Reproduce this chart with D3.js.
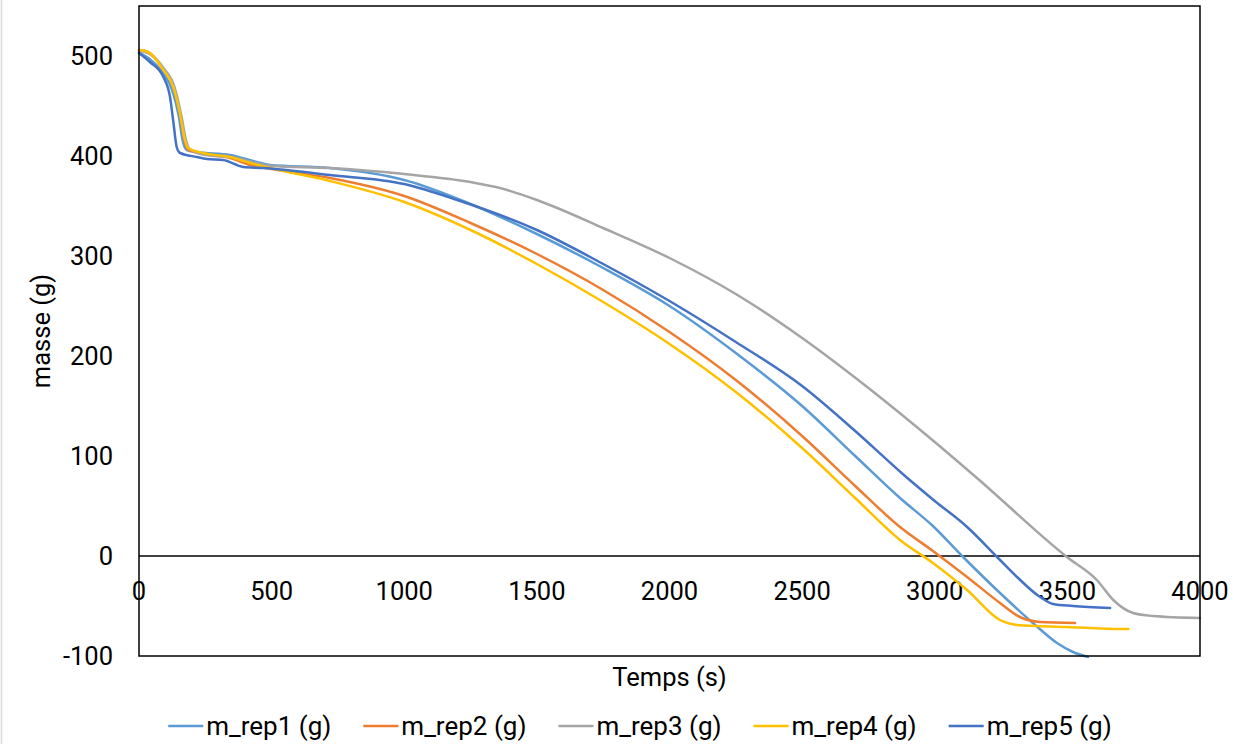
<!DOCTYPE html>
<html lang="fr">
<head>
  <meta charset="utf-8">
  <title>masse vs temps</title>
  <script src="https://d3js.org/d3.v7.min.js"></script>
  <style>
    body { margin: 0; background: #fff; }
    svg text { font-family: Roboto, "Liberation Sans", sans-serif; fill: #000; }
    .line { fill: none; stroke-width: 2.5px; stroke-linejoin: round; stroke-linecap: round; }
  </style>
</head>
<body>
<svg width="1234" height="744"></svg>
<script>
// series: [temps (s), masse (g)]
var rep1 = [[0,503],[40,497],[90,483],[125,466],[150,440],[165,415],[180,406],[218,404],[343,401],[444,394],[494,391],[720,388],[1000,376],[1250,352],[1500,322],[1750,288],[2000,250],[2250,203],[2500,150],[2700,100],[2869,58],[2993,30],[3107,-1],[3246,-37],[3370,-67],[3461,-87],[3521,-96],[3578,-101]];
var rep2 = [[0,506],[34,504],[92,487],[130,470],[155,443],[172,415],[186,406],[242,402],[343,398],[420,391],[500,387],[720,378],[1000,360],[1250,333],[1500,302],[1750,266],[2000,224],[2250,176],[2500,120],[2700,70],[2869,29],[2993,5],[3122,-21],[3246,-47],[3321,-61],[3397,-66],[3529,-67]];
var rep3 = [[0,505],[34,503],[92,488],[135,468],[160,440],[178,415],[192,407],[250,401],[343,399],[500,390],[720,388],[1000,382],[1250,374],[1361,368],[1500,356],[1750,328],[2000,298],[2250,262],[2500,218],[2750,168],[3000,114],[3159,78],[3498,-1],[3611,-24],[3673,-44],[3748,-57],[3823,-60],[4000,-62]];
var rep4 = [[0,506],[34,504],[92,486],[129,469],[154,443],[173,416],[186,408],[242,403],[343,399],[419,393],[494,388],[720,375],[1000,354],[1250,326],[1500,292],[1750,254],[2000,212],[2250,164],[2500,108],[2700,58],[2869,16],[2993,-7],[3122,-34],[3246,-64],[3310,-69],[3498,-71],[3706,-73],[3730,-73]];
var rep5 = [[0,503],[41,494],[92,479],[117,459],[130,433],[142,409],[155,403],[218,399],[256,397],[317,396],[393,389],[468,388],[720,381],[1000,372],[1200,356],[1500,326],[1750,292],[2000,255],[2250,214],[2500,170],[2700,125],[2888,80],[3000,55],[3122,29],[3235,-1],[3310,-21],[3397,-41],[3446,-48],[3521,-50],[3661,-52]];

var seriesNames = ["m_rep1 (g)", "m_rep2 (g)", "m_rep3 (g)", "m_rep4 (g)", "m_rep5 (g)"];
var seriesColors = ["#5B9BD5", "#ED7D31", "#A5A5A5", "#FFC000", "#4472C4"];
var xTicks = [0, 500, 1000, 1500, 2000, 2500, 3000, 3500, 4000];
var yTicks = [-100, 0, 100, 200, 300, 400, 500];

var svg = d3.select("svg"),
    margin = {top: 6, right: 34, bottom: 88, left: 139},
    width = 1234 - margin.left - margin.right,
    height = 744 - margin.top - margin.bottom,
    g = svg.append("g").attr("transform", "translate(" + margin.left + "," + margin.top + ")");

// thin page edge at the left
svg.append("line").attr("x1", 1.5).attr("x2", 1.5).attr("y1", 0).attr("y2", 744)
  .attr("stroke", "#d9d9d9").attr("stroke-width", 1.5);

var x = d3.scaleLinear().domain([0, 4000]).range([0, width]);
var y = d3.scaleLinear().domain([-100, 550]).range([height, 0]);

var line = d3.line()
    .curve(d3.curveMonotoneX)
    .x(function(d) { return x(d[0]); })
    .y(function(d) { return y(d[1]); });

// tick labels
g.selectAll(".ylab").data(yTicks).enter().append("text")
  .attr("x", -26).attr("y", function(d) { return y(d); })
  .attr("dy", "0.35em").attr("text-anchor", "end")
  .style("font-size", "25.5px").text(function(d) { return d; });

g.selectAll(".xlab").data(xTicks).enter().append("text")
  .attr("x", function(d) { return x(d); }).attr("y", y(0) + 35)
  .attr("dy", "0.35em").attr("text-anchor", "middle")
  .style("font-size", "25.5px").text(function(d) { return d; });

// zero line
g.append("line").attr("x1", 0).attr("x2", width).attr("y1", y(0)).attr("y2", y(0))
  .attr("stroke", "#000").attr("stroke-width", 1.3);

var data = [rep1, rep2, rep3, rep4, rep5];
g.selectAll(".line").data(data).enter().append("path")
  .attr("class", "line")
  .attr("d", line)
  .style("stroke", function(d, i) { return seriesColors[i]; });

// plot frame
g.append("rect").attr("x", 0).attr("y", 0).attr("width", width).attr("height", height)
  .attr("fill", "none").attr("stroke", "#000").attr("stroke-width", 1.5);

// axis titles
svg.append("text").attr("x", margin.left + width / 2).attr("y", 677).attr("dy", "0.35em")
  .attr("text-anchor", "middle").style("font-size", "25.5px").text("Temps (s)");
svg.append("text").attr("transform", "translate(41," + (margin.top + height / 2) + ") rotate(-90)")
  .attr("dy", "0.35em").attr("text-anchor", "middle").style("font-size", "25.5px").text("masse (g)");

// legend
var leg = svg.append("g");
var items = leg.selectAll("g").data(seriesNames).enter().append("g");
items.append("line").attr("x1", 0).attr("x2", 35).attr("y1", 0).attr("y2", 0)
  .attr("stroke", function(d, i) { return seriesColors[i]; }).attr("stroke-width", 2.5);
items.append("text").attr("x", 38).attr("dy", "0.35em").style("font-size", "26px").text(function(d) { return d; });
var pos = 0, offs = [];
items.each(function() {
  offs.push(pos);
  pos += 38 + this.querySelector("text").getComputedTextLength() + 32;
});
var total = pos - 32;
items.attr("transform", function(d, i) { return "translate(" + offs[i] + ",0)"; });
leg.attr("transform", "translate(" + (640 - total / 2) + ",726)");
</script>
</body>
</html>
